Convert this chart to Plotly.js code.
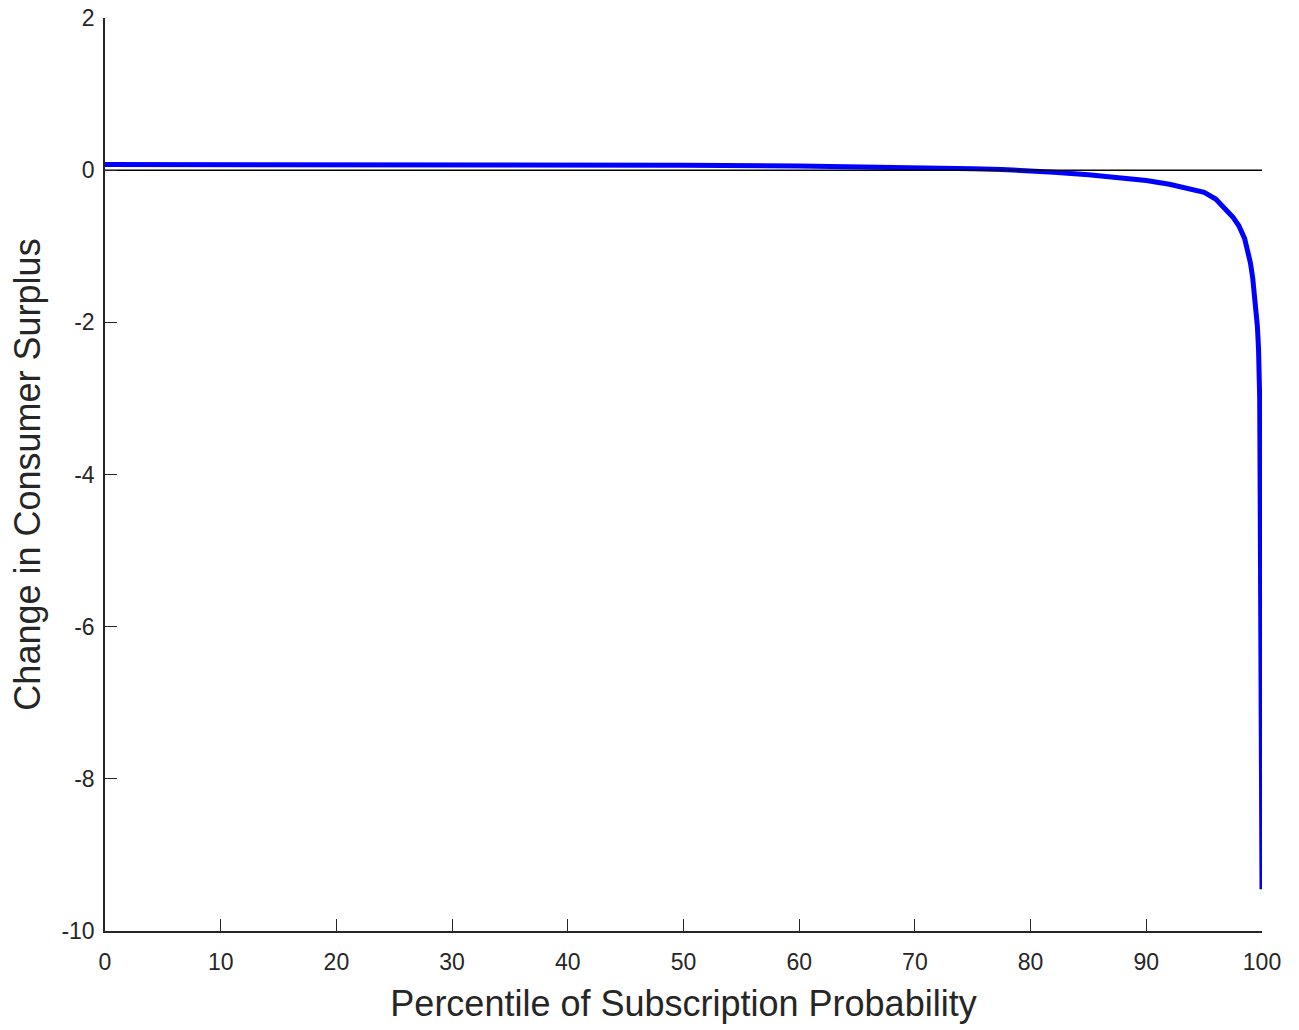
<!DOCTYPE html>
<html>
<head>
<meta charset="utf-8">
<script src="https://cdn.plot.ly/plotly-3.0.1.min.js"></script>
<style>html,body{margin:0;padding:0;background:#fff;}#chart{width:1299px;height:1030px;}</style>
</head>
<body>
<div id="chart"></div>
<script>
// Percentile of subscription probability
const percentile = [0, 10, 20, 30, 40, 50, 60, 65, 70, 75, 77.5, 80, 82, 85, 88, 90, 92, 94, 95, 96, 96.5, 97, 97.5, 98, 98.5, 99, 99.2, 99.4, 99.6, 99.7, 99.75, 99.8, 99.85, 99.9, 99.95, 100];
// Change in consumer surplus
const csChange = [0.074, 0.074, 0.073, 0.071, 0.068, 0.063, 0.055, 0.048, 0.035, 0.018, 0.009, -0.008, -0.028, -0.06, -0.1, -0.135, -0.185, -0.25, -0.29, -0.38, -0.45, -0.54, -0.62, -0.73, -0.9, -1.22, -1.42, -1.68, -2.05, -2.35, -2.6, -3.0, -4.5, -6.0, -8.0, -9.45];
// Reference zero line
const zeroX = [0, 100];
const zeroY = [0, 0];
const xTicks = [0, 10, 20, 30, 40, 50, 60, 70, 80, 90, 100];
const yTicks = [-10, -8, -6, -4, -2, 0, 2];

const axisColor = '#262626';
const traces = [
  {x: percentile, y: csChange, type: 'scatter', mode: 'lines',
   line: {color: '#0000ff', width: 5}, hoverinfo: 'x+y'},
  {x: zeroX, y: zeroY, type: 'scatter', mode: 'lines',
   line: {color: '#000000', width: 1.5}, hoverinfo: 'skip'}
];
const layout = {
  width: 1299, height: 1030,
  margin: {l: 105, r: 37, t: 18, b: 99},
  paper_bgcolor: '#ffffff', plot_bgcolor: '#ffffff',
  showlegend: false,
  font: {family: 'Liberation Sans, Arial, sans-serif', color: axisColor},
  xaxis: {
    range: [0, 100], tickvals: xTicks, ticktext: xTicks.map(String),
    ticks: 'inside', ticklen: 12, tickwidth: 1.3, tickcolor: axisColor,
    showline: true, linecolor: axisColor, linewidth: 1.5,
    showgrid: false, zeroline: false, ticklabelstandoff: 10,
    tickfont: {size: 23, color: axisColor},
    title: {text: 'Percentile of Subscription Probability', font: {size: 36, color: axisColor}, standoff: 16}
  },
  yaxis: {
    range: [-10, 2], tickvals: yTicks, ticktext: yTicks.map(String),
    ticks: 'inside', ticklen: 12, tickwidth: 1.3, tickcolor: axisColor,
    showline: true, linecolor: axisColor, linewidth: 1.5,
    showgrid: false, zeroline: false, ticklabelstandoff: 4,
    tickfont: {size: 23, color: axisColor},
    title: {text: 'Change in Consumer Surplus', font: {size: 36, color: axisColor}, standoff: 10}
  }
};
Plotly.newPlot('chart', traces, layout, {displayModeBar: false, staticPlot: false});
</script>
</body>
</html>
